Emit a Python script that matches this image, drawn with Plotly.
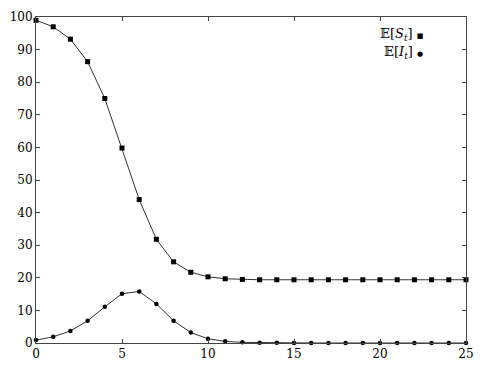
import plotly.graph_objects as go

t = list(range(26))
S = [99.0, 97.0, 93.2, 86.3, 75.0, 59.8, 44.0, 31.8, 24.9, 21.7, 20.3, 19.7, 19.5,
     19.4, 19.4, 19.4, 19.4, 19.4, 19.4, 19.4, 19.4, 19.4, 19.4, 19.4, 19.4, 19.4]
I = [0.9, 1.9, 3.7, 6.8, 11.1, 15.1, 15.8, 12.0, 6.8, 3.2, 1.3, 0.5, 0.2,
     0.1, 0.05, 0.02, 0.01, 0, 0, 0, 0, 0, 0, 0, 0, 0]
xticks = [0, 5, 10, 15, 20, 25]
yticks = list(range(0, 101, 10))
labels = ["𝔼[<i>S</i><sub><i>t</i></sub>] <span style='font-size:7px'>■</span>",
          "𝔼[<i>I</i><sub><i>t</i></sub>] <span style='font-size:7px'>●</span>"]

font = "DejaVu Serif"
fig = go.Figure()
fig.add_trace(go.Scatter(x=t, y=S, mode="lines+markers", line=dict(color="#333", width=1),
                         marker=dict(symbol="square", size=5, color="black"), cliponaxis=False))
fig.add_trace(go.Scatter(x=t, y=I, mode="lines+markers", line=dict(color="#333", width=1),
                         marker=dict(symbol="circle", size=4.5, color="black"), cliponaxis=False))

for i, lab in enumerate(labels):
    fig.add_annotation(x=0.905, y=0.945 - i * 0.055, xref="paper", yref="paper",
                       text=lab, showarrow=False, xanchor="right", yanchor="middle",
                       font=dict(family=font, size=13, color="black"))

axis_common = dict(showgrid=False, zeroline=False, showline=True, mirror="allticks",
                   linecolor="#444", linewidth=1, ticks="inside", ticklen=4,
                   tickcolor="#444", tickfont=dict(family=font, size=12, color="black"))
fig.update_xaxes(range=[0, 25], tickvals=xticks, **axis_common)
fig.update_yaxes(range=[0, 100], tickvals=yticks, **axis_common)
fig.update_layout(width=484, height=373, margin=dict(l=32, r=11, t=10, b=30),
                  plot_bgcolor="white", paper_bgcolor="white", showlegend=False)
fig.write_html("out.html")
